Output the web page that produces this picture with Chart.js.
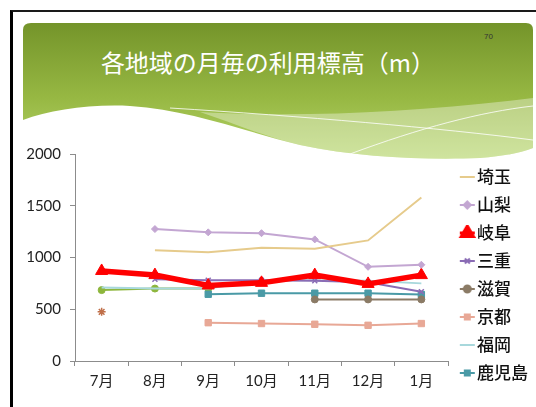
<!DOCTYPE html>
<html lang="ja">
<head>
<meta charset="utf-8">
<script src="https://cdn.jsdelivr.net/npm/chart.js@4.4.1/dist/chart.umd.min.js"></script>
<style>
  html, body { margin: 0; padding: 0; background: #fff; }
  body { width: 536px; height: 407px; position: relative; overflow: hidden; font-family: "Noto Sans CJK JP", sans-serif; }
  .frame { position: absolute; left: 10px; top: 10px; width: 560px; height: 420px; border-left: 3px solid #000; border-top: 2px solid #1a1a1a; }
  svg.header { position: absolute; left: 0; top: 0; }
  .title { position: absolute; left: 0; width: 536px; top: 46px; text-align: center; color: #fff; font-size: 24px; line-height: 32px; }
  .page-no { position: absolute; left: 484px; top: 32px; font: 8px "Liberation Sans", sans-serif; color: #333; }
  .chart-box { position: absolute; left: 14px; top: 136px; width: 524px; height: 264px; }
</style>
</head>
<body>
<div class="frame"></div>
<svg class="header" width="536" height="170">
  <defs>
    <linearGradient id="hdr" x1="0" y1="0" x2="0" y2="1">
      <stop offset="0" stop-color="#74942a"/>
      <stop offset="0.55" stop-color="#97b843"/>
      <stop offset="1" stop-color="#b6d66c"/>
    </linearGradient>
  </defs>
  <path d="M31,23 H526 Q533,23 533,30 V160 H23 V30 Q23,23 31,23 Z" fill="url(#hdr)"/>
  <path d="M200,112 C300,118 420,112 533,98 L533,148 C520,153 505,156 480,158 C430,160 360,158 300,145 C260,135 230,122 200,112 Z" fill="rgba(255,255,255,0.35)"/>
  <path d="M23,120 C50,110 90,104 130,106 C190,110 240,130 300,145 C360,158 430,160 480,158 C505,156 520,153 533,148 L533,170 L23,170 Z" fill="#fff"/>
  <path d="M170,108 C300,116 440,128 533,140" stroke="#fff" stroke-width="1" fill="none" opacity="0.8"/>
  <path d="M350,154 C420,128 480,112 533,106" stroke="#fff" stroke-width="1" fill="none" opacity="0.8"/>
</svg>
<div class="title">各地域の月毎の利用標高（m）</div>
<div class="page-no">70</div>
<div class="chart-box"><canvas id="chart"></canvas></div>
<script>
const months = ['7月', '8月', '9月', '10月', '11月', '12月', '1月'];
const yTicks = [0, 500, 1000, 1500, 2000];

const saitama   = [null, 1070, 1050, 1095, 1085, 1165, 1580];
const yamanashi = [null, 1275, 1243, 1235, 1175, 910, 930];
const gifu      = [870, 830, 730, 755, 830, 745, 830];
const mie       = [null, 790, 780, 780, 775, 760, 670];
const shiga     = [null, null, null, null, 595, 595, 595];
const kyoto     = [null, null, 370, 362, 355, 345, 362];
const fukuoka   = [710, 700, 700, 780, 780, 775, 750];
const kagoshima = [null, null, 645, 655, 655, 655, 642];
// two unlabeled series visible in the plot but not in the legend
const extraGreen = [685, 700, 700, null, null, null, null];
const extraStar  = [475, null, null, null, null, null, null];

const series = [
    { label: '埼玉',   data: saitama,   color: '#e6cb8c', width: 2, style: false,       r: 0 },
    { label: '山梨',   data: yamanashi, color: '#c3a6d2', width: 2, style: 'rectRot',  r: 3.5 },
    { label: '岐阜',   data: gifu,      color: '#ff0000', width: 5.5, style: 'triangle', r: 7 },
    { label: '三重',   data: mie,       color: '#8a6cb5', width: 2, style: 'crossRot', r: 3.5 },
    { label: '滋賀',   data: shiga,     color: '#8b7b66', width: 2, style: 'circle',   r: 3.5 },
    { label: '京都',   data: kyoto,     color: '#e8a896', width: 2, style: 'rect',     r: 4.5 },
    { label: '福岡',   data: fukuoka,   color: '#a8d8dc', width: 2, style: false,      r: 0 },
    { label: '鹿児島', data: kagoshima, color: '#4a9aa6', width: 2, style: 'rect',     r: 4.5 },
    { label: '',       data: extraGreen, color: '#8db63c', width: 2, style: 'circle',  r: 3.5 },
    { label: '',       data: extraStar,  color: '#c0704a', width: 2, style: 'star',    r: 4 }
];

// line+marker icons for the legend; the visible part sits right of centre
function makeIcon(s) {
    const c = document.createElement('canvas');
    c.width = 24;
    c.height = 16;
    const g = c.getContext('2d');
    g.strokeStyle = s.color;
    g.fillStyle = s.color;
    g.lineWidth = Math.min(s.width, 3);
    g.beginPath();
    g.moveTo(8, 8);
    g.lineTo(23, 8);
    g.stroke();
    if (s.style) {
        Chart.helpers.drawPoint(g, {
            pointStyle: s.style,
            radius: s.style === 'triangle' ? 7 : 3.5,
            rotation: 0,
            borderWidth: 1.5
        }, 15.5, 8);
        if (s.style !== 'crossRot') g.fill();
    }
    return c;
}

const datasets = series.map(s => ({
    label: s.label,
    data: s.data,
    borderColor: s.color,
    backgroundColor: s.color,
    borderWidth: s.width,
    pointStyle: s.style,
    pointRadius: s.r,
    pointBorderWidth: (s.style === 'crossRot' || s.style === 'star') ? 1.5 : 1,
    tension: 0,
    fill: false
}));

const icons = series.slice(0, 8).map(makeIcon);

new Chart(document.getElementById('chart'), {
    type: 'line',
    data: { labels: months, datasets },
    options: {
        responsive: true,
        maintainAspectRatio: false,
        animation: false,
        layout: { padding: { top: 5, bottom: 4, left: 0, right: 0 } },
        plugins: {
            tooltip: { enabled: false },
            legend: {
                position: 'right',
                // empty title only nudges the entries down a little
                title: { display: true, text: ' ', font: { size: 10 }, padding: 0.5 },
                labels: {
                    usePointStyle: true,
                    pointStyleWidth: 9.5,
                    padding: 11,
                    color: '#111',
                    font: { family: '"Noto Sans CJK JP", sans-serif', size: 17, weight: '500' },
                    generateLabels: chart => series.slice(0, 8).map((s, i) => ({
                        text: s.label,
                        datasetIndex: i,
                        pointStyle: icons[i],
                        fillStyle: 'transparent',
                        strokeStyle: 'transparent',
                        lineWidth: 0,
                        hidden: false,
                        fontColor: '#111'
                    }))
                }
            }
        },
        scales: {
            x: {
                offset: true,
                grid: { offset: true, drawOnChartArea: false, tickLength: 5, color: '#8c8c8c' },
                border: { color: '#8c8c8c' },
                ticks: {
                    color: '#222',
                    padding: 6,
                    font: { family: '"Lato", "Noto Sans CJK JP", sans-serif', size: 15 }
                }
            },
            y: {
                min: 0,
                max: 2000,
                afterBuildTicks: scale => { scale.ticks = yTicks.map(v => ({ value: v })); },
                afterFit: scale => { scale.width = 61; },
                grid: { drawOnChartArea: false, tickLength: 5, color: '#8c8c8c' },
                border: { color: '#8c8c8c' },
                ticks: {
                    color: '#222',
                    padding: 9,
                    font: { family: '"Lato", sans-serif', size: 15 },
                    callback: v => String(v)
                }
            }
        }
    }
});
</script>
</body>
</html>
